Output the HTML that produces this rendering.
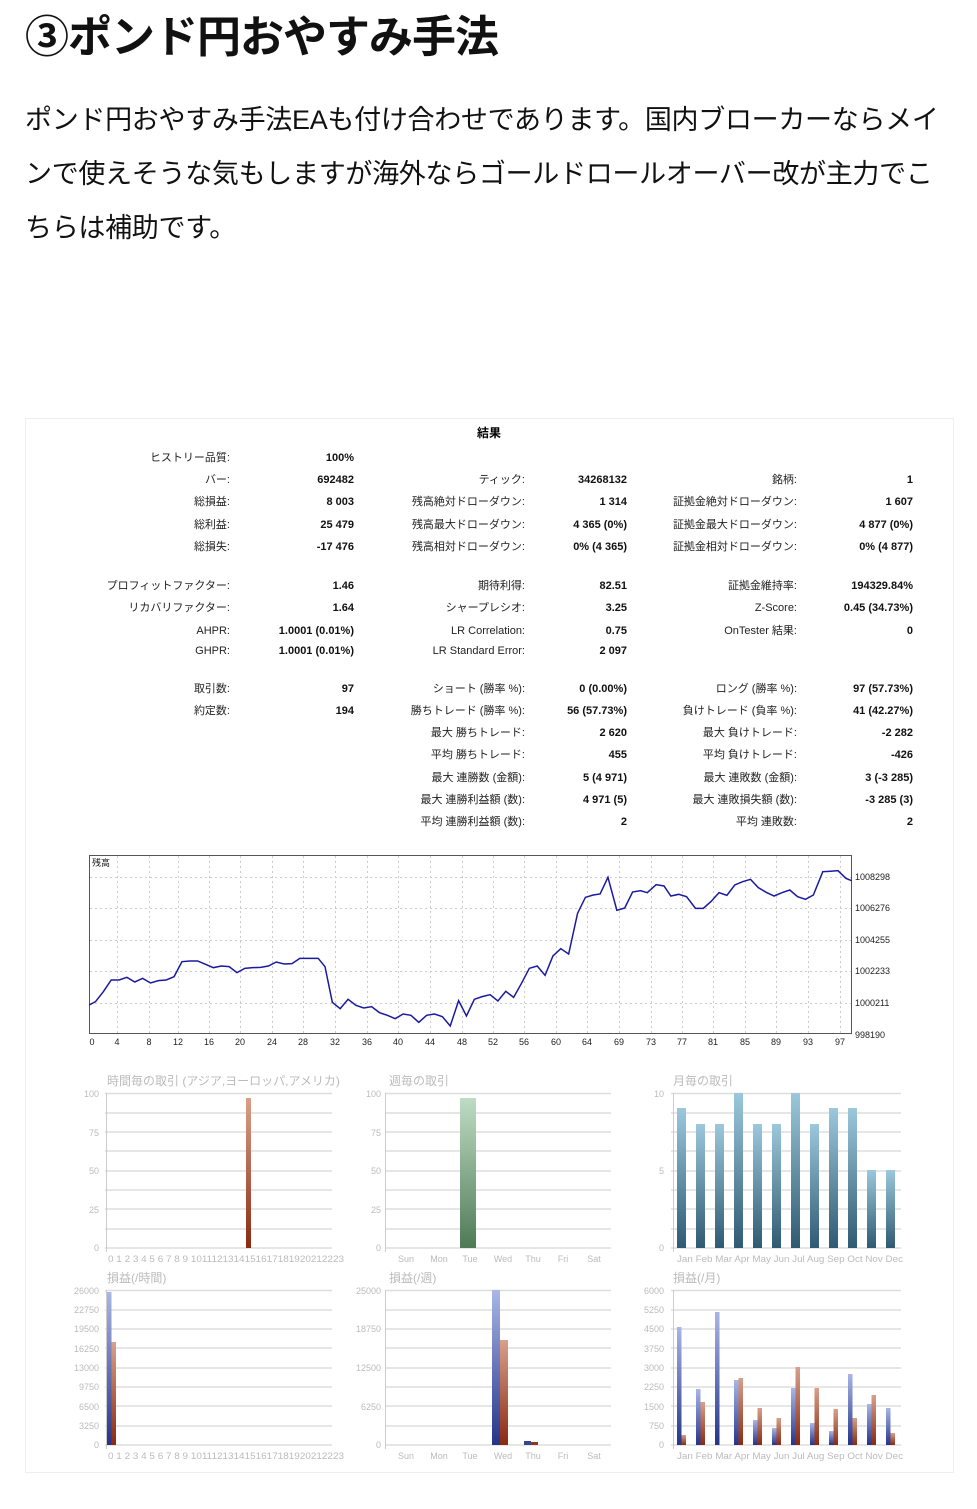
<!DOCTYPE html>
<html><head><meta charset="utf-8">
<style>
body{margin:0;width:977px;height:1509px;background:#fff;overflow:hidden;font-family:"Liberation Sans","Noto Sans CJK JP",sans-serif;color:#111;}
h1{position:absolute;left:25px;top:8px;margin:0;font-size:44px;font-weight:bold;line-height:60px;letter-spacing:-1px;}
p{position:absolute;left:25px;top:93px;margin:0;font-size:27px;line-height:54px;white-space:nowrap;letter-spacing:-0.3px;}
svg{position:absolute;left:0;top:0;}
.l{font-size:11px;text-anchor:end;fill:#222;}
.v{font-size:11px;text-anchor:end;font-weight:bold;fill:#111;}
.g{font-size:9px;fill:#bbb;}
.t{font-size:12px;fill:#bbb;}
.ax{font-size:9px;fill:#222;}
</style></head><body>
<h1>③ポンド円おやすみ手法</h1>
<p>ポンド円おやすみ手法EAも付け合わせであります。国内ブローカーならメイ<br>ンで使えそうな気もしますが海外ならゴールドロールオーバー改が主力でこ<br>ちらは補助です。</p>
<svg width="977" height="1509" viewBox="0 0 977 1509">
<defs>
<linearGradient id="br" x1="0" y1="0" x2="0" y2="1"><stop offset="0" stop-color="#d9a08a"/><stop offset="1" stop-color="#8a2a10"/></linearGradient>
<linearGradient id="gr" x1="0" y1="0" x2="0" y2="1"><stop offset="0" stop-color="#bfdcc4"/><stop offset="1" stop-color="#4f7a55"/></linearGradient>
<linearGradient id="bl" x1="0" y1="0" x2="0" y2="1"><stop offset="0" stop-color="#9cc8dc"/><stop offset="1" stop-color="#2f5a72"/></linearGradient>
<linearGradient id="bb" x1="0" y1="0" x2="0" y2="1"><stop offset="0" stop-color="#a9b6e6"/><stop offset="1" stop-color="#24358a"/></linearGradient>
</defs>
<rect x="25.5" y="418.5" width="928" height="1054" fill="none" stroke="#eee"/>
<text x="489" y="437" font-size="12" font-weight="bold" text-anchor="middle">結果</text>
<g>
<text class="l" x="230" y="461">ヒストリー品質:</text><text class="v" x="354" y="461">100%</text>
<text class="l" x="230" y="483">バー:</text><text class="v" x="354" y="483">692482</text>
<text class="l" x="230" y="505">総損益:</text><text class="v" x="354" y="505">8 003</text>
<text class="l" x="230" y="528">総利益:</text><text class="v" x="354" y="528">25 479</text>
<text class="l" x="230" y="550">総損失:</text><text class="v" x="354" y="550">-17 476</text>
<text class="l" x="230" y="589">プロフィットファクター:</text><text class="v" x="354" y="589">1.46</text>
<text class="l" x="230" y="611">リカバリファクター:</text><text class="v" x="354" y="611">1.64</text>
<text class="l" x="230" y="634">AHPR:</text><text class="v" x="354" y="634">1.0001 (0.01%)</text>
<text class="l" x="230" y="654">GHPR:</text><text class="v" x="354" y="654">1.0001 (0.01%)</text>
<text class="l" x="230" y="692">取引数:</text><text class="v" x="354" y="692">97</text>
<text class="l" x="230" y="714">約定数:</text><text class="v" x="354" y="714">194</text>
</g>
<g>
<text class="l" x="525" y="483">ティック:</text><text class="v" x="627" y="483">34268132</text>
<text class="l" x="525" y="505">残高絶対ドローダウン:</text><text class="v" x="627" y="505">1 314</text>
<text class="l" x="525" y="528">残高最大ドローダウン:</text><text class="v" x="627" y="528">4 365 (0%)</text>
<text class="l" x="525" y="550">残高相対ドローダウン:</text><text class="v" x="627" y="550">0% (4 365)</text>
<text class="l" x="525" y="589">期待利得:</text><text class="v" x="627" y="589">82.51</text>
<text class="l" x="525" y="611">シャープレシオ:</text><text class="v" x="627" y="611">3.25</text>
<text class="l" x="525" y="634">LR Correlation:</text><text class="v" x="627" y="634">0.75</text>
<text class="l" x="525" y="654">LR Standard Error:</text><text class="v" x="627" y="654">2 097</text>
<text class="l" x="525" y="692">ショート (勝率 %):</text><text class="v" x="627" y="692">0 (0.00%)</text>
<text class="l" x="525" y="714">勝ちトレード (勝率 %):</text><text class="v" x="627" y="714">56 (57.73%)</text>
<text class="l" x="525" y="736">最大 勝ちトレード:</text><text class="v" x="627" y="736">2 620</text>
<text class="l" x="525" y="758">平均 勝ちトレード:</text><text class="v" x="627" y="758">455</text>
<text class="l" x="525" y="781">最大 連勝数 (金額):</text><text class="v" x="627" y="781">5 (4 971)</text>
<text class="l" x="525" y="803">最大 連勝利益額 (数):</text><text class="v" x="627" y="803">4 971 (5)</text>
<text class="l" x="525" y="825">平均 連勝利益額 (数):</text><text class="v" x="627" y="825">2</text>
</g>
<g>
<text class="l" x="797" y="483">銘柄:</text><text class="v" x="913" y="483">1</text>
<text class="l" x="797" y="505">証拠金絶対ドローダウン:</text><text class="v" x="913" y="505">1 607</text>
<text class="l" x="797" y="528">証拠金最大ドローダウン:</text><text class="v" x="913" y="528">4 877 (0%)</text>
<text class="l" x="797" y="550">証拠金相対ドローダウン:</text><text class="v" x="913" y="550">0% (4 877)</text>
<text class="l" x="797" y="589">証拠金維持率:</text><text class="v" x="913" y="589">194329.84%</text>
<text class="l" x="797" y="611">Z-Score:</text><text class="v" x="913" y="611">0.45 (34.73%)</text>
<text class="l" x="797" y="634">OnTester 結果:</text><text class="v" x="913" y="634">0</text>
<text class="l" x="797" y="692">ロング (勝率 %):</text><text class="v" x="913" y="692">97 (57.73%)</text>
<text class="l" x="797" y="714">負けトレード (負率 %):</text><text class="v" x="913" y="714">41 (42.27%)</text>
<text class="l" x="797" y="736">最大 負けトレード:</text><text class="v" x="913" y="736">-2 282</text>
<text class="l" x="797" y="758">平均 負けトレード:</text><text class="v" x="913" y="758">-426</text>
<text class="l" x="797" y="781">最大 連敗数 (金額):</text><text class="v" x="913" y="781">3 (-3 285)</text>
<text class="l" x="797" y="803">最大 連敗損失額 (数):</text><text class="v" x="913" y="803">-3 285 (3)</text>
<text class="l" x="797" y="825">平均 連敗数:</text><text class="v" x="913" y="825">2</text>
</g>

<rect x="89.5" y="855.5" width="762" height="178" fill="#fff" stroke="#555"/>
<g stroke="#ccc" stroke-dasharray="2,3" stroke-width="1">
<line x1="90" x2="851" y1="877.5" y2="877.5"/><line x1="90" x2="851" y1="908.5" y2="908.5"/><line x1="90" x2="851" y1="940.5" y2="940.5"/><line x1="90" x2="851" y1="971.5" y2="971.5"/><line x1="90" x2="851" y1="1003.5" y2="1003.5"/>
<line x1="117.5" x2="117.5" y1="856" y2="1033"/><line x1="149.5" x2="149.5" y1="856" y2="1033"/><line x1="178.5" x2="178.5" y1="856" y2="1033"/><line x1="209.5" x2="209.5" y1="856" y2="1033"/><line x1="240.5" x2="240.5" y1="856" y2="1033"/><line x1="272.5" x2="272.5" y1="856" y2="1033"/><line x1="303.5" x2="303.5" y1="856" y2="1033"/><line x1="335.5" x2="335.5" y1="856" y2="1033"/><line x1="367.5" x2="367.5" y1="856" y2="1033"/><line x1="398.5" x2="398.5" y1="856" y2="1033"/><line x1="430.5" x2="430.5" y1="856" y2="1033"/><line x1="462.5" x2="462.5" y1="856" y2="1033"/><line x1="493.5" x2="493.5" y1="856" y2="1033"/><line x1="524.5" x2="524.5" y1="856" y2="1033"/><line x1="556.5" x2="556.5" y1="856" y2="1033"/><line x1="587.5" x2="587.5" y1="856" y2="1033"/><line x1="619.5" x2="619.5" y1="856" y2="1033"/><line x1="651.5" x2="651.5" y1="856" y2="1033"/><line x1="682.5" x2="682.5" y1="856" y2="1033"/><line x1="713.5" x2="713.5" y1="856" y2="1033"/><line x1="745.5" x2="745.5" y1="856" y2="1033"/><line x1="776.5" x2="776.5" y1="856" y2="1033"/><line x1="808.5" x2="808.5" y1="856" y2="1033"/><line x1="840.5" x2="840.5" y1="856" y2="1033"/>
</g>
<text x="92" y="866" font-size="9" fill="#222">残高</text>
<g transform="translate(85,850) scale(0.524,0.3333)">
<polyline fill="none" stroke="#1a1aa0" stroke-width="1.5" vector-effect="non-scaling-stroke" points="8,465 20,455 35,425 50,390 65,390 80,382 95,396 110,385 125,399 140,392 155,390 170,380 185,335 200,333 215,333 230,343 245,353 260,348 275,350 290,368 305,355 320,353 335,352 350,348 365,336 380,342 395,341 410,325 425,325 440,325 445,325 458,350 472,457 487,476 502,448 517,466 532,474 547,470 562,488 577,496 592,506 607,492 622,496 637,517 652,496 667,492 682,500 697,528 713,452 728,498 743,448 758,440 773,434 788,453 803,424 818,442 833,400 848,355 863,348 878,376 893,318 908,296 923,312 940,190 955,142 970,135 983,132 998,82 1015,181 1030,174 1045,126 1060,122 1073,128 1090,104 1105,108 1118,138 1133,133 1148,140 1165,175 1180,175 1195,154 1210,128 1225,136 1240,105 1255,95 1270,88 1285,113 1300,127 1315,138 1330,128 1345,120 1360,140 1375,148 1390,135 1408,65 1420,64 1437,62 1452,85 1463,92"/>
</g>
<g class="ax"><text x="855" y="880">1008298</text><text x="855" y="911">1006276</text><text x="855" y="943">1004255</text><text x="855" y="974">1002233</text><text x="855" y="1006">1000211</text><text x="855" y="1038">998190</text></g>
<g class="ax" text-anchor="middle"><text x="92" y="1045">0</text><text x="117" y="1045">4</text><text x="149" y="1045">8</text><text x="178" y="1045">12</text><text x="209" y="1045">16</text><text x="240" y="1045">20</text><text x="272" y="1045">24</text><text x="303" y="1045">28</text><text x="335" y="1045">32</text><text x="367" y="1045">36</text><text x="398" y="1045">40</text><text x="430" y="1045">44</text><text x="462" y="1045">48</text><text x="493" y="1045">52</text><text x="524" y="1045">56</text><text x="556" y="1045">60</text><text x="587" y="1045">64</text><text x="619" y="1045">69</text><text x="651" y="1045">73</text><text x="682" y="1045">77</text><text x="713" y="1045">81</text><text x="745" y="1045">85</text><text x="776" y="1045">89</text><text x="808" y="1045">93</text><text x="840" y="1045">97</text></g>

<g stroke="#ddd" stroke-width="1.5">
<path d="M105 1093.5H332M105 1113H332M105 1132H332M105 1151H332M105 1171H332M105 1190H332M105 1209H332M105 1229H332M105 1248H332"/>
<path d="M385 1093.5H611M385 1113H611M385 1132H611M385 1151H611M385 1171H611M385 1190H611M385 1209H611M385 1229H611M385 1248H611"/>
<path d="M671 1093.5H901M671 1113H901M671 1132H901M671 1151H901M671 1171H901M671 1190H901M671 1209H901M671 1229H901M671 1248H901"/>
<path d="M105 1290.5H332M105 1310H332M105 1329H332M105 1348H332M105 1368H332M105 1387H332M105 1406H332M105 1426H332M105 1445H332"/>
<path d="M385 1290.5H611M385 1310H611M385 1329H611M385 1348H611M385 1368H611M385 1387H611M385 1406H611M385 1426H611M385 1445H611"/>
<path d="M671 1290.5H901M671 1310H901M671 1329H901M671 1348H901M671 1368H901M671 1387H901M671 1406H901M671 1426H901M671 1445H901"/>
</g>
<g stroke="#ccc"><path d="M106.5 1093V1252M385.5 1093V1252M673.5 1093V1252M106.5 1290V1449M385.5 1290V1449M673.5 1290V1449"/></g>
<g class="t"><text x="107" y="1085">時間毎の取引 (アジア,ヨーロッパ,アメリカ)</text><text x="389" y="1085">週毎の取引</text><text x="673" y="1085">月毎の取引</text>
<text x="107" y="1282">損益(/時間)</text><text x="389" y="1282">損益(/週)</text><text x="673" y="1282">損益(/月)</text></g>
<g class="g" text-anchor="end">
<text x="99" y="1097">100</text><text x="99" y="1136">75</text><text x="99" y="1174">50</text><text x="99" y="1213">25</text><text x="99" y="1251">0</text>
<text x="381" y="1097">100</text><text x="381" y="1136">75</text><text x="381" y="1174">50</text><text x="381" y="1213">25</text><text x="381" y="1251">0</text>
<text x="664" y="1097">10</text><text x="664" y="1174">5</text><text x="664" y="1251">0</text>
<text x="99" y="1294">26000</text><text x="99" y="1313">22750</text><text x="99" y="1332">19500</text><text x="99" y="1352">16250</text><text x="99" y="1371">13000</text><text x="99" y="1390">9750</text><text x="99" y="1410">6500</text><text x="99" y="1429">3250</text><text x="99" y="1448">0</text>
<text x="381" y="1294">25000</text><text x="381" y="1332">18750</text><text x="381" y="1371">12500</text><text x="381" y="1410">6250</text><text x="381" y="1448">0</text>
<text x="664" y="1294">6000</text><text x="664" y="1313">5250</text><text x="664" y="1332">4500</text><text x="664" y="1352">3750</text><text x="664" y="1371">3000</text><text x="664" y="1390">2250</text><text x="664" y="1410">1500</text><text x="664" y="1429">750</text><text x="664" y="1448">0</text>
</g>
<g class="g">
<text x="108" y="1262" textLength="236" lengthAdjust="spacingAndGlyphs">0 1 2 3 4 5 6 7 8 9 1011121314151617181920212223</text>
<text x="108" y="1459" textLength="236" lengthAdjust="spacingAndGlyphs">0 1 2 3 4 5 6 7 8 9 1011121314151617181920212223</text>
<g text-anchor="middle"><text x="406" y="1262">Sun</text><text x="439" y="1262">Mon</text><text x="470" y="1262">Tue</text><text x="503" y="1262">Wed</text><text x="533" y="1262">Thu</text><text x="563" y="1262">Fri</text><text x="594" y="1262">Sat</text>
<text x="406" y="1459">Sun</text><text x="439" y="1459">Mon</text><text x="470" y="1459">Tue</text><text x="503" y="1459">Wed</text><text x="533" y="1459">Thu</text><text x="563" y="1459">Fri</text><text x="594" y="1459">Sat</text></g>
<text x="677" y="1262" textLength="226" lengthAdjust="spacingAndGlyphs">Jan Feb Mar Apr May Jun  Jul  Aug Sep Oct Nov Dec</text>
<text x="677" y="1459" textLength="226" lengthAdjust="spacingAndGlyphs">Jan Feb Mar Apr May Jun  Jul  Aug Sep Oct Nov Dec</text>
</g>
<rect x="246" y="1098" width="5" height="150" fill="url(#br)"/>
<rect x="460" y="1098" width="16" height="150" fill="url(#gr)"/>
<g fill="url(#bl)">
<rect x="677" y="1108" width="9" height="140"/><rect x="696" y="1124" width="9" height="124"/><rect x="715" y="1124" width="9" height="124"/><rect x="734" y="1093" width="9" height="155"/><rect x="753" y="1124" width="9" height="124"/><rect x="772" y="1124" width="9" height="124"/><rect x="791" y="1093" width="9" height="155"/><rect x="810" y="1124" width="9" height="124"/><rect x="829" y="1108" width="9" height="140"/><rect x="848" y="1108" width="9" height="140"/><rect x="867" y="1170" width="9" height="78"/><rect x="886" y="1170" width="9" height="78"/>
</g>
<rect x="107" y="1292" width="4.5" height="153" fill="url(#bb)"/>
<rect x="111.5" y="1342" width="4.5" height="103" fill="url(#br)"/>
<rect x="492" y="1290" width="8" height="155" fill="url(#bb)"/>
<rect x="500" y="1340" width="8" height="105" fill="url(#br)"/>
<rect x="524" y="1441" width="7" height="4" fill="#33468f"/><rect x="531" y="1442" width="7" height="3" fill="#8a3a1a"/>
<g fill="url(#bb)">
<rect x="677" y="1327" width="4.5" height="118"/><rect x="696" y="1389" width="4.5" height="56"/><rect x="715" y="1312" width="4.5" height="133"/><rect x="734" y="1380" width="4.5" height="65"/><rect x="753" y="1420" width="4.5" height="25"/><rect x="772" y="1428" width="4.5" height="17"/><rect x="791" y="1388" width="4.5" height="57"/><rect x="810" y="1423" width="4.5" height="22"/><rect x="829" y="1431" width="4.5" height="14"/><rect x="848" y="1374" width="4.5" height="71"/><rect x="867" y="1404" width="4.5" height="41"/><rect x="886" y="1408" width="4.5" height="37"/>
</g>
<g fill="url(#br)">
<rect x="681.5" y="1435" width="4.5" height="10"/><rect x="700.5" y="1402" width="4.5" height="43"/><rect x="738.5" y="1378" width="4.5" height="67"/><rect x="757.5" y="1408" width="4.5" height="37"/><rect x="776.5" y="1418" width="4.5" height="27"/><rect x="795.5" y="1367" width="4.5" height="78"/><rect x="814.5" y="1388" width="4.5" height="57"/><rect x="833.5" y="1409" width="4.5" height="36"/><rect x="852.5" y="1418" width="4.5" height="27"/><rect x="871.5" y="1395" width="4.5" height="50"/><rect x="890.5" y="1433" width="4.5" height="12"/>
</g>
</svg>
</body></html>
